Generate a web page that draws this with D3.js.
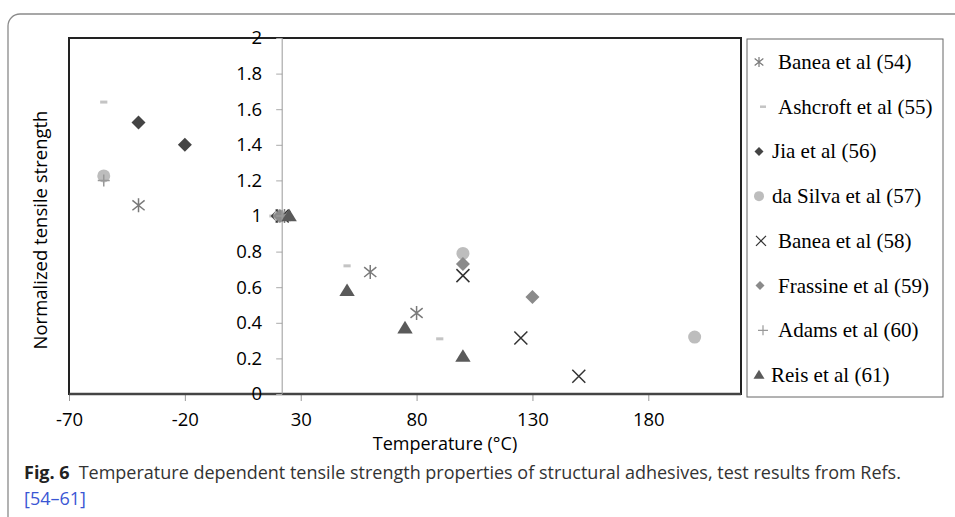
<!DOCTYPE html>
<html>
<head>
<meta charset="utf-8">
<script src="https://cdn.jsdelivr.net/npm/d3@7"></script>
<style>
  html, body { margin: 0; padding: 0; background: #fff; }
  svg { display: block; }
</style>
</head>
<body>
<svg id="chart" width="955" height="517"></svg>
<script>
// ---- Data ----
const seriesNames = ["Banea et al (54)", "Ashcroft et al (55)", "Jia et al (56)", "da Silva et al (57)",
  "Banea et al (58)", "Frassine et al (59)", "Adams et al (60)", "Reis et al (61)"];
const baneaA_T = [-40, 23, 60, 80];
const baneaA_S = [1.06, 1.0, 0.685, 0.455];
const ashcroft_T = [-55, 18, 50, 90];
const ashcroft_S = [1.64, 1.0, 0.72, 0.31];
const jia_T = [-40, -20, 20];
const jia_S = [1.525, 1.40, 1.0];
const daSilva_T = [-55, 21, 100, 200];
const daSilva_S = [1.225, 1.0, 0.79, 0.32];
const baneaB_T = [22, 100, 125, 150];
const baneaB_S = [1.0, 0.665, 0.315, 0.10];
const frassine_T = [21, 100, 130];
const frassine_S = [1.0, 0.73, 0.545];
const adams_T = [-55, 22];
const adams_S = [1.20, 1.0];
const reis_T = [25, 50, 75, 100];
const reis_S = [1.0, 0.58, 0.37, 0.21];
const xTicks = [-70, -20, 30, 80, 130, 180];
const yTicks = [0, 0.2, 0.4, 0.6, 0.8, 1, 1.2, 1.4, 1.6, 1.8, 2];
const yAxisCross = 22;
const xTitle = "Temperature  (°C)";
const yTitle = "Normalized tensile strength";
const captionBold = "Fig. 6";
const captionText = "Temperature dependent tensile strength properties of structural adhesives, test results from Refs.";
const captionRef = "[54–61]";

// ---- Shapes ----
const shapes = {
  asterisk: s => `M0,${-s}L0,${s}M${-s*0.87},${-s*0.7}L${s*0.87},${s*0.7}M${-s*0.87},${s*0.7}L${s*0.87},${-s*0.7}`,
  dash: s => `M${-s*0.6},${-s*0.25}H${s*0.6}V${s*0.25}H${-s*0.6}Z`,
  diamond: s => `M0,${-s}L${s},0L0,${s}L${-s},0Z`,
  circle: s => `M${s},0A${s},${s} 0 1,1 ${-s},0A${s},${s} 0 1,1 ${s},0Z`,
  times: s => `M${-s},${-s}L${s},${s}M${-s},${s}L${s},${-s}`,
  plus: s => `M0,${-s}V${s}M${-s},0H${s}`,
  triangle: s => `M0,${-s*1.05}L${s*1.1},${s*0.75}L${-s*1.1},${s*0.75}Z`
};
const series = [
  {name: seriesNames[0], T: baneaA_T, S: baneaA_S, shape: "asterisk", color: "#7a7a7a", stroke: true, size: 7, lsize: 5, lx: 759, tx: 778},
  {name: seriesNames[1], T: ashcroft_T, S: ashcroft_S, shape: "dash", color: "#c4c4c4", stroke: false, size: 6, lsize: 5, lx: 763, tx: 778},
  {name: seriesNames[2], T: jia_T, S: jia_S, shape: "diamond", color: "#444444", stroke: false, size: 7, lsize: 4.5, lx: 759, tx: 772},
  {name: seriesNames[3], T: daSilva_T, S: daSilva_S, shape: "circle", color: "#bdbdbd", stroke: false, size: 6.5, lsize: 5, lx: 759, tx: 772},
  {name: seriesNames[4], T: baneaB_T, S: baneaB_S, shape: "times", color: "#333333", stroke: true, size: 6.5, lsize: 5, lx: 761, tx: 778},
  {name: seriesNames[5], T: frassine_T, S: frassine_S, shape: "diamond", color: "#8a8a8a", stroke: false, size: 7, lsize: 4.5, lx: 760, tx: 778},
  {name: seriesNames[6], T: adams_T, S: adams_S, shape: "plus", color: "#999999", stroke: true, size: 6, lsize: 5, lx: 763, tx: 778},
  {name: seriesNames[7], T: reis_T, S: reis_S, shape: "triangle", color: "#5a5a5a", stroke: false, size: 7, lsize: 5, lx: 759, tx: 771}
];

// ---- Layout ----
const svg = d3.select("#chart");
const plot = {left: 69, right: 741, top: 38, bottom: 394};
const x = d3.scaleLinear().domain([-70, 220]).range([plot.left, plot.right]);
const y = d3.scaleLinear().domain([0, 2]).range([plot.bottom, plot.top]);
const sans = "'Open Sans', 'Noto Sans', sans-serif";

// outer frame
svg.append("path")
  .attr("d", "M8,517 V26 A12,12 0 0 1 20,14 H955")
  .attr("fill", "none").attr("stroke", "#8a8a8a").attr("stroke-width", 1.3);

// plot box
svg.append("rect")
  .attr("x", plot.left).attr("y", plot.top)
  .attr("width", x(220) - plot.left).attr("height", plot.bottom - plot.top)
  .attr("fill", "none").attr("stroke", "#222").attr("stroke-width", 2);

// x axis
const xAxis = svg.append("g").attr("transform", `translate(0,${plot.bottom})`)
  .call(d3.axisBottom(x).tickValues(xTicks).tickSize(7).tickPadding(12).tickFormat(d => String(d)));
xAxis.select(".domain").remove();
xAxis.selectAll("line").attr("stroke", "#999");
xAxis.selectAll("text").attr("font-family", sans).attr("font-size", 18.5).attr("fill", "#000");
svg.append("line").attr("x1", plot.left).attr("x2", x(220)).attr("y1", plot.bottom).attr("y2", plot.bottom)
  .attr("stroke", "#444").attr("stroke-width", 2.5);

// y axis
const yAxis = svg.append("g").attr("transform", `translate(${x(yAxisCross)},0)`)
  .call(d3.axisLeft(y).tickValues(yTicks).tickSize(6).tickPadding(14).tickFormat(d => String(+d.toFixed(1))));
yAxis.select(".domain").remove();
yAxis.selectAll("line").attr("stroke", "#aaa");
yAxis.selectAll("text").attr("font-family", sans).attr("font-size", 18.5).attr("fill", "#000");
svg.append("line").attr("x1", x(yAxisCross)).attr("x2", x(yAxisCross)).attr("y1", plot.top).attr("y2", plot.bottom)
  .attr("stroke", "#999").attr("stroke-width", 1);

// titles
svg.append("text").attr("x", 445).attr("y", 450).attr("text-anchor", "middle")
  .attr("font-family", sans).attr("font-size", 18).attr("fill", "#000").text(xTitle);
svg.append("text").attr("transform", "translate(47,230) rotate(-90)").attr("text-anchor", "middle")
  .attr("font-family", sans).attr("font-size", 18.5).attr("fill", "#000").text(yTitle);

// points
series.forEach(s => {
  svg.append("g").selectAll("path").data(s.T.map((t, i) => [t, s.S[i]])).join("path")
    .attr("transform", d => `translate(${x(d[0])},${y(d[1])})`)
    .attr("d", shapes[s.shape](s.size))
    .attr("fill", s.stroke ? "none" : s.color)
    .attr("stroke", s.stroke ? s.color : "none")
    .attr("stroke-width", 1.5);
});

// legend
const leg = svg.append("g");
leg.append("rect").attr("x", 747).attr("y", 39).attr("width", 196).attr("height", 358)
  .attr("fill", "#fff").attr("stroke", "#666").attr("stroke-width", 1);
const legY = d3.scalePoint().domain(seriesNames).range([62, 375]);
series.forEach(s => {
  const cy = legY(s.name);
  leg.append("path").attr("transform", `translate(${s.lx},${cy})`)
    .attr("d", shapes[s.shape](s.lsize))
    .attr("fill", s.stroke ? "none" : s.color)
    .attr("stroke", s.stroke ? s.color : "none")
    .attr("stroke-width", 1.2);
  leg.append("text").attr("x", s.tx).attr("y", cy + 7)
    .attr("font-family", "'Liberation Serif', 'Times New Roman', serif").attr("font-size", 21).attr("fill", "#000")
    .text(s.name);
});

// caption
const cap = svg.append("text").attr("x", 24).attr("y", 479)
  .attr("font-family", sans).attr("font-size", 18).attr("fill", "#333");
cap.append("tspan").attr("font-weight", "bold").attr("fill", "#222").text(captionBold);
cap.append("tspan").attr("dx", 9).text(captionText);
svg.append("text").attr("x", 24).attr("y", 505)
  .attr("font-family", sans).attr("font-size", 18).attr("fill", "#3a56d4").text(captionRef);
</script>
</body>
</html>
